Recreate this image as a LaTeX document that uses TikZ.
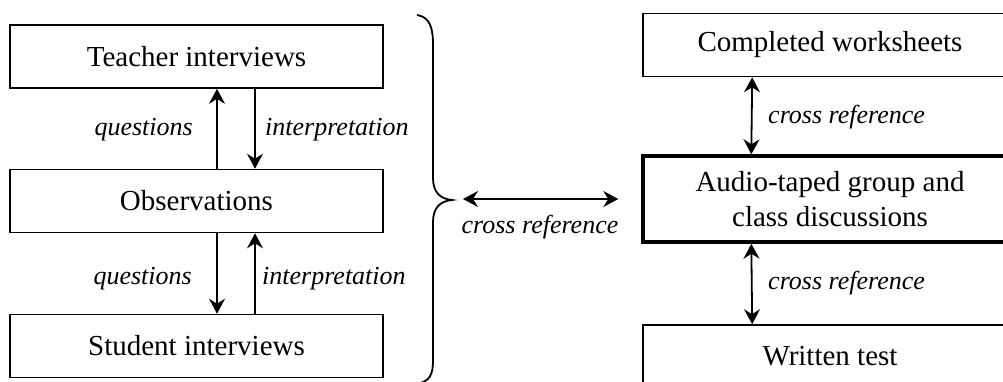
\documentclass[tikz,border=0pt]{standalone}
\usepackage{fontspec}
\setmainfont{Liberation Serif}
\usetikzlibrary{arrows.meta}
\tikzset{
  box/.style={draw, line width=1.6pt, minimum width=373pt, minimum height=63pt, inner sep=0pt, align=center, font=\fontsize{29}{35}\selectfont},
  thickbox/.style={box, line width=3.4pt},
  lbl/.style={inner sep=0pt, font=\fontsize{26}{30}\selectfont\itshape},
  tip/.style={Stealth[length=15pt,width=16pt,inset=5pt]},
  arr/.style={line width=1.8pt, -{Stealth[length=15pt,width=16pt,inset=5pt]}},
  darr/.style={line width=1.8pt, {Stealth[length=15pt,width=16pt,inset=5pt]}-{Stealth[length=15pt,width=16pt,inset=5pt]}},
  bracestyle/.style={line width=1.8pt}
}
\begin{document}
\begin{tikzpicture}[x=1pt,y=-1pt]
\useasboundingbox (0,0) rectangle (1003,381);
\clip (0,0) rectangle (1003,381);
% left boxes
\node[box] (teacher) at (196.5,56.5) {Teacher interviews};
\node[box] (obs) at (196.5,201) {Observations};
\node[box] (student) at (196.5,346) {Student interviews};
% right boxes
\node[box, minimum width=374pt] (cw) at (830,45) {Completed worksheets};
\node[thickbox, minimum width=374pt, minimum height=86pt] (audio) at (830,199) {Audio-taped group and\\class discussions};
\node[box, minimum width=374pt] (written) at (830,356.5) {Written test};
% left arrows
\draw[arr] ([xshift=20.5pt]obs.north) -- ([xshift=20.5pt]teacher.south);
\draw[arr] ([xshift=58.5pt]teacher.south) -- ([xshift=58.5pt]obs.north);
\draw[arr] ([xshift=20.5pt]obs.south) -- ([xshift=20.5pt]student.north);
\draw[arr] ([xshift=58.5pt]student.north) -- ([xshift=58.5pt]obs.south);
\node[lbl, anchor=east] (q1) at (193,130) {questions};
\node[lbl, anchor=west] (i1) at (265,130) {interpretation};
\node[lbl, anchor=east] (q2) at (192,279) {questions};
\node[lbl, anchor=west] (i2) at (262,279) {interpretation};
% right arrows
\draw[darr] ([xshift=110pt]cw.south west) -- ([xshift=110pt]audio.north west);
\draw[darr] ([xshift=110pt]audio.south west) -- ([xshift=110pt]written.north west);
\node[lbl, anchor=west] (c1) at (768,117) {cross reference};
\node[lbl, anchor=west] (c2) at (768,283) {cross reference};
% brace
\draw[bracestyle] (417,15) .. controls (430,17) and (433,28) .. (433,45) -- (433,178)
  .. controls (433,192) and (440,199) .. (452,200)
  .. controls (440,201) and (433,208) .. (433,222) -- (433,360)
  .. controls (433,375) and (430,381) .. (417,384);
\coordinate (bt) at (452,199);
\draw[darr, shorten <=11pt, shorten >=23pt] (bt) -- (audio.west);
\node[lbl] (c3) at (540,227) {cross reference};
\end{tikzpicture}
\end{document}
